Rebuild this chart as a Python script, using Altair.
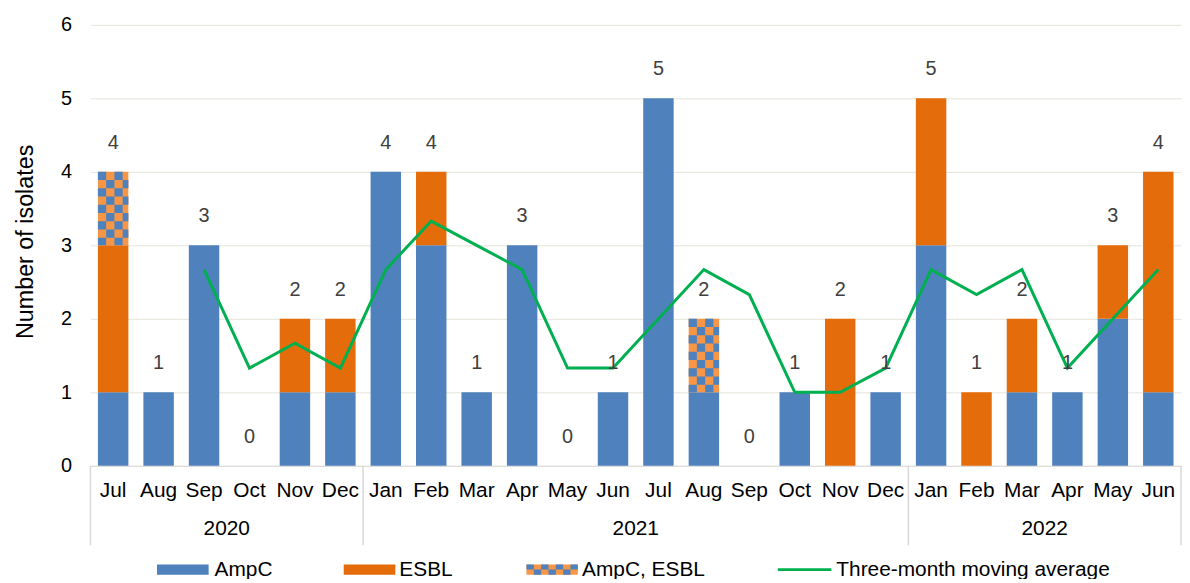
import altair as alt
import pandas as pd

# ---------------- data ----------------
months = ["Jul 2020", "Aug 2020", "Sep 2020", "Oct 2020", "Nov 2020", "Dec 2020",
          "Jan 2021", "Feb 2021", "Mar 2021", "Apr 2021", "May 2021", "Jun 2021",
          "Jul 2021", "Aug 2021", "Sep 2021", "Oct 2021", "Nov 2021", "Dec 2021",
          "Jan 2022", "Feb 2022", "Mar 2022", "Apr 2022", "May 2022", "Jun 2022"]
ampc = [1, 1, 3, 0, 1, 1, 4, 3, 1, 3, 0, 1, 5, 1, 0, 1, 0, 1, 3, 0, 1, 1, 2, 1]
esbl = [2, 0, 0, 0, 1, 1, 0, 1, 0, 0, 0, 0, 0, 0, 0, 0, 2, 0, 2, 1, 1, 0, 1, 3]
both = [1, 0, 0, 0, 0, 0, 0, 0, 0, 0, 0, 0, 0, 1, 0, 0, 0, 0, 0, 0, 0, 0, 0, 0]
totals = [4, 1, 3, 0, 2, 2, 4, 4, 1, 3, 0, 1, 5, 2, 0, 1, 2, 1, 5, 1, 2, 1, 3, 4]
moving_avg = [None, None, 2.67, 1.33, 1.67, 1.33, 2.67, 3.33, 3.0, 2.67, 1.33, 1.33,
              2.0, 2.67, 2.33, 1.0, 1.0, 1.33, 2.67, 2.33, 2.67, 1.33, 2.0, 2.67]
years = ["2020", "2021", "2022"]
year_anchor = ["Oct 2020", "Jul 2021", "Apr 2022"]
group_starts = ["Jul 2020", "Jan 2021", "Jan 2022"]
group_end = ["Jun 2022"]
series_names = ["AmpC", "ESBL", "AmpC, ESBL"]
line_name = "Three-month moving average"

# ---------------- style ----------------
FONT = "Liberation Sans"
FS = 20
FS_CAT = 21
BLUE = "#4F81BD"
ORANGE = "#E46C0A"
LIGHT_ORANGE = "#F79646"
GREEN = "#00B050"
GRID = "#E6E3DA"
AXIS_GRAY = "#D9D9D9"

W, H = 1098, 444
STEP = W / len(months)
BAND = STEP * (1 - 0.33)


def checker_path(width, height, cw, ch):
    parts = []
    x_left, y_top = -width / 2, -height / 2
    r = 0
    y0 = y_top
    while y0 < height / 2 - 0.01:
        y1 = min(y0 + ch, height / 2)
        c = 0
        x0 = x_left
        while x0 < width / 2 - 0.01:
            x1 = min(x0 + cw, width / 2)
            if (r + c) % 2 == 0:
                parts.append(f"M{x0:.2f},{y0:.2f}L{x1:.2f},{y0:.2f}L{x1:.2f},{y1:.2f}L{x0:.2f},{y1:.2f}Z")
            x0 += cw
            c += 1
        y0 += ch
        r += 1
    return "".join(parts)


bar_checker = checker_path(BAND, H / 6, 8.3, 8.3)
legend_checker = checker_path(51.7, 10.3, 7.386, 5.15)

df = pd.DataFrame({
    "key": months,
    "AmpC": ampc,
    "ESBL": esbl,
    "AmpC, ESBL": both,
    "total": totals,
    "ma": moving_avg,
})

xscale = alt.Scale(paddingInner=0.33, paddingOuter=0.165)
x_axis = alt.X(
    "key:N", sort=months, scale=xscale, title=None,
    axis=alt.Axis(labelExpr="split(datum.value, ' ')[0]", labelAngle=0,
                  labelFontSize=FS_CAT, labelFont=FONT, labelColor="#000000",
                  labelBaseline="middle", labelPadding=25, ticks=False, tickSize=0,
                  domainColor=AXIS_GRAY, domainWidth=1, grid=False),
)
x_plain = alt.X("key:N", sort=months, scale=xscale, title=None)

yscale = alt.Scale(domain=[0, 6], nice=False)

base = alt.Chart(df)

bars = base.transform_fold(
    series_names, as_=["type", "value"]
).transform_calculate(
    ord="indexof(['AmpC', 'ESBL', 'AmpC, ESBL'], datum.type)"
).mark_bar().encode(
    x=x_axis,
    y=alt.Y("value:Q", stack="zero", scale=yscale, title="Number of isolates",
            axis=alt.Axis(values=[0, 1, 2, 3, 4, 5, 6], format="d", grid=True,
                          gridColor=GRID, gridWidth=1, domain=False, ticks=False,
                          tickSize=0, labelFontSize=FS, labelFont=FONT,
                          labelColor="#000000", labelPadding=19,
                          titleFontSize=23.5, titleFont=FONT,
                          titleFontWeight="normal", titleColor="#000000",
                          titleX=-58, titleY=218, titleBaseline="alphabetic",
                          titleAngle=270)),
    color=alt.Color("type:N", scale=alt.Scale(domain=series_names,
                                              range=[BLUE, ORANGE, LIGHT_ORANGE]),
                    legend=None),
    order=alt.Order("ord:Q"),
)

checker = base.transform_filter(
    "datum['AmpC, ESBL'] > 0"
).transform_calculate(
    mid="datum.AmpC + datum.ESBL + datum['AmpC, ESBL'] / 2"
).mark_point(shape=bar_checker, size=4, filled=True, color=BLUE, opacity=1,
             strokeWidth=0).encode(
    x=x_plain,
    y=alt.Y("mid:Q", scale=yscale),
)

labels = base.mark_text(fontSize=FS, font=FONT, color="#404040", baseline="middle",
                        dy=-29).encode(
    x=x_plain,
    y=alt.Y("total:Q", scale=yscale),
    text=alt.Text("total:Q"),
)

line = base.transform_filter("datum.ma != null").mark_line(
    color=GREEN, strokeWidth=3).encode(
    x=x_plain,
    y=alt.Y("ma:Q", scale=yscale),
)

# year labels and group separators under the axis
year_df = pd.DataFrame({"key": year_anchor, "year": years})
year_text = alt.Chart(year_df).mark_text(fontSize=FS_CAT, font=FONT, color="#000000",
                                         baseline="middle", dx=-STEP / 2).encode(
    x=x_plain, y=alt.value(508), text="year:N")

sep_df = pd.DataFrame({"key": group_starts})
seps = alt.Chart(sep_df).mark_rule(color=AXIS_GRAY, strokeWidth=1.5,
                                   xOffset=-STEP / 2).encode(
    x=x_plain, y=alt.value(H), y2=alt.value(H + 80))
end_df = pd.DataFrame({"key": group_end})
sep_end = alt.Chart(end_df).mark_rule(color=AXIS_GRAY, strokeWidth=1.5,
                                      xOffset=STEP / 2).encode(
    x=x_plain, y=alt.value(H), y2=alt.value(H + 80))

# legend (manual)
LY = 548.5
leg_layers = []
swatches = [(67, 119, BLUE), (255, 307, ORANGE), (439, 490.7, LIGHT_ORANGE)]
for (x0, x1, col), name in zip(swatches, series_names):
    leg_layers.append(
        alt.Chart(pd.DataFrame({"label": [name]})).mark_rect(color=col).encode(
            x=alt.value(x0), x2=alt.value(x1), y=alt.value(LY - 5.15), y2=alt.value(LY + 5.15)))
leg_layers.append(
    alt.Chart(pd.DataFrame({"label": [series_names[2]]})).mark_point(
        shape=legend_checker, size=4, filled=True, color=BLUE, opacity=1, strokeWidth=0
    ).encode(x=alt.value((439 + 490.7) / 2), y=alt.value(LY)))
leg_layers.append(
    alt.Chart(pd.DataFrame({"label": [line_name]})).mark_rule(color=GREEN, strokeWidth=3).encode(
        x=alt.value(692), x2=alt.value(746), y=alt.value(LY)))
for xpos, name in zip([125, 311, 495, 751], series_names + [line_name]):
    leg_layers.append(
        alt.Chart(pd.DataFrame({"label": [name]})).mark_text(
            fontSize=FS_CAT, font=FONT, color="#000000", align="left", baseline="middle"
        ).encode(x=alt.value(xpos), y=alt.value(LY), text="label:N"))

chart = alt.layer(
    bars, checker, line, labels, year_text, seps, sep_end, *leg_layers
).properties(
    width=W, height=H,
    autosize=alt.AutoSizeParams(type="none"),
    padding={"left": 83, "top": 15, "right": 1, "bottom": 112},
).configure(
    font=FONT,
    view=alt.ViewConfig(stroke=None),
)

chart.save("out.html", embed_options={"renderer": "svg", "actions": False})
